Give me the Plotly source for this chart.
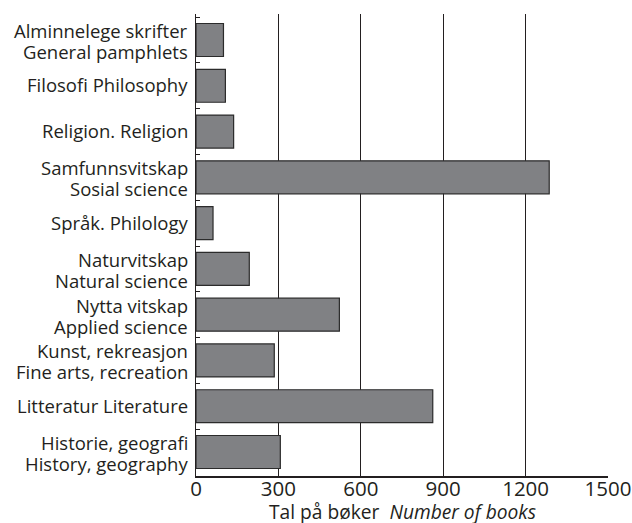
import plotly.graph_objects as go

categories = [
    "Alminnelege skrifter<br>General pamphlets",
    "Filosofi Philosophy",
    "Religion. Religion",
    "Samfunnsvitskap<br>Sosial science",
    "Språk. Philology",
    "Naturvitskap<br>Natural science",
    "Nytta vitskap<br>Applied science",
    "Kunst, rekreasjon<br>Fine arts, recreation",
    "Litteratur Literature",
    "Historie, geografi<br>History, geography",
]
values = [100, 107, 137, 1286, 62, 194, 522, 285, 862, 307]
x_ticks = [0, 300, 600, 900, 1200, 1500]
x_title = "Tal på bøker  <i>Number of books</i>"

TEXT = "#231f20"

fig = go.Figure(go.Bar(
    x=values, y=categories, orientation="h",
    marker=dict(color="#808184", line=dict(color="#2b2b2b", width=1.2)),
    width=0.72,
))

fig.update_layout(
    width=632, height=523,
    margin=dict(l=196, r=24, t=14, b=47),
    paper_bgcolor="white", plot_bgcolor="white",
    font=dict(family="Open Sans", size=18.5, color=TEXT),
    showlegend=False,
    bargap=0.28,
)
fig.update_xaxes(
    range=[0, 1500], tickvals=x_ticks, ticktext=[str(v) for v in x_ticks],
    showgrid=True, gridcolor=TEXT, gridwidth=1.2,
    showline=True, linecolor=TEXT, linewidth=1.5,
    zeroline=False, ticks="", tickfont=dict(size=20.5),
    ticklabelstandoff=-6,
    automargin=False, fixedrange=True,
)
fig.update_yaxes(
    autorange="reversed", showgrid=False,
    showline=True, linecolor=TEXT, linewidth=1.5,
    ticks="inside", tickson="boundaries", ticklen=4, tickcolor=TEXT,
    showticklabels=False, automargin=False, fixedrange=True,
)

# category labels, one annotation per text line for tight line spacing
for cat in categories:
    lines = cat.split("<br>")
    n = len(lines)
    for i, line in enumerate(lines):
        down = (i - (n - 1) / 2) * 21 + (1 if n > 1 else -1)
        fig.add_annotation(
            text=line, xref="paper", yref="y", x=0, y=cat,
            xanchor="right", yanchor="middle", xshift=-6, yshift=-down,
            showarrow=False, font=dict(size=18.5, color=TEXT),
        )

fig.add_annotation(
    text=x_title, xref="paper", yref="paper", x=0.5, y=0,
    xanchor="center", yanchor="middle", yshift=-35.5, showarrow=False,
    font=dict(size=19.2, color=TEXT),
)

fig.write_html(
    "out.html",
    config={"displayModeBar": False, "staticPlot": True},
    post_script="document.body.style.margin='0';",
)
